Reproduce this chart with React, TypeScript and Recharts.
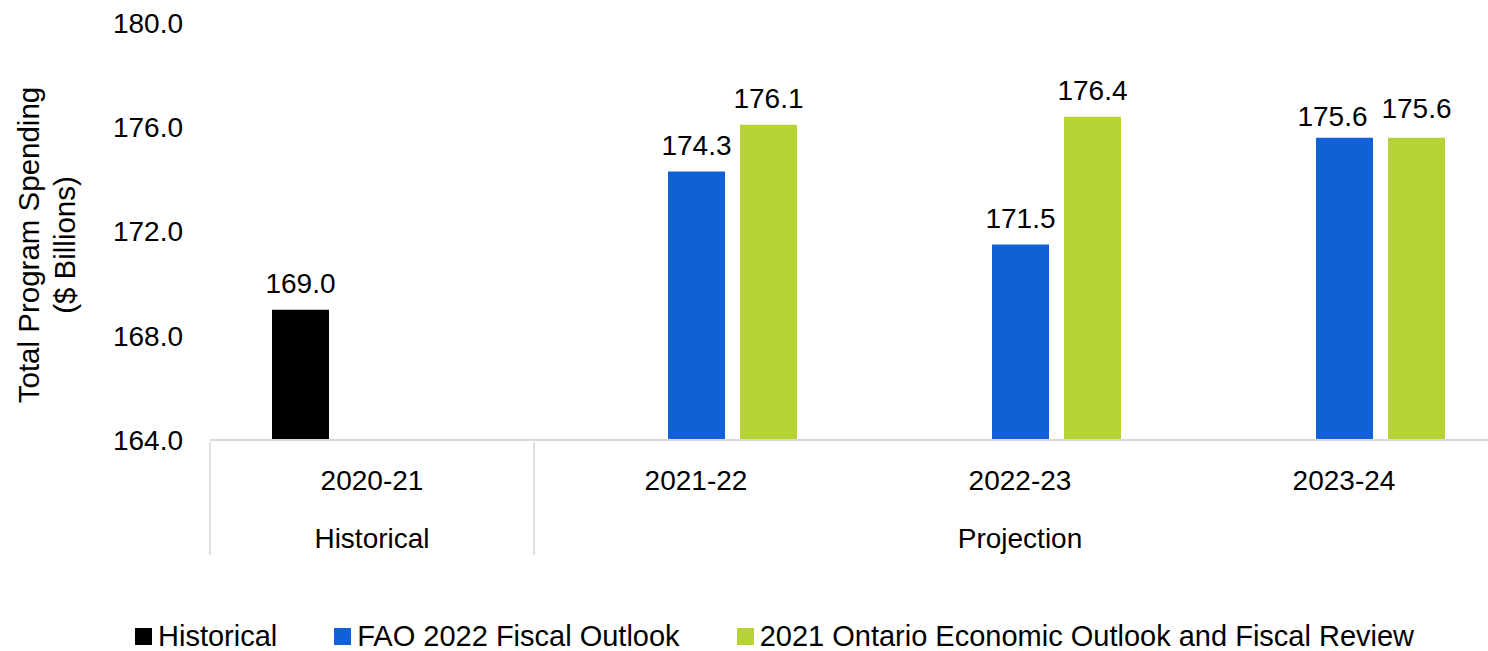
import React from 'react';
import { BarChart, Bar, XAxis, YAxis, Legend, LabelList } from 'recharts';

const categories = ['2020-21', '2021-22', '2022-23', '2023-24'];
const historical = [169.0, null, null, null];
const fao2022 = [null, 174.3, 171.5, 175.6];
const ontario2021 = [null, 176.1, 176.4, 175.6];
const yTicks = [164, 168, 172, 176, 180];
const groupLabels = [
  { index: 0, label: 'Historical' },
  { index: 2, label: 'Projection' },
];
const seriesNames = ['Historical', 'FAO 2022 Fiscal Outlook', '2021 Ontario Economic Outlook and Fiscal Review'];

const data = categories.map((c, i) => ({
  cat: c,
  historical: historical[i],
  fao: fao2022[i],
  ontario: ontario2021[i],
}));

const FONT = '"Liberation Sans", Arial, sans-serif';
const CHART_W = 1530;
const CHART_H = 651;
const MARGIN = { top: 23, right: 24, left: 0, bottom: 0 };
const Y_W = 210;
const BAND = (CHART_W - MARGIN.left - MARGIN.right - Y_W) / categories.length;
const GRID = '#D9D9D9';
const COLORS = ['#000000', '#1060D6', '#B5D334'];

const XTick = (props: any) => {
  const { x, y, payload, index } = props;
  const half = BAND / 2;
  const group = groupLabels.find((g) => g.index === index);
  return (
    <g>
      <text x={x} y={y + 38} textAnchor="middle" dominantBaseline="central" fontSize={28} fill="#000" fontFamily={FONT}>
        {payload.value}
      </text>
      {group && (
        <text x={x} y={y + 96} textAnchor="middle" dominantBaseline="central" fontSize={28} fill="#000" fontFamily={FONT}>
          {group.label}
        </text>
      )}
      {index === 0 && (
        <>
          <line x1={x - half} x2={x - half} y1={y} y2={y + 113} stroke={GRID} strokeWidth={1.5} />
          <line x1={x + half} x2={x + half} y1={y} y2={y + 113} stroke={GRID} strokeWidth={1.5} />
        </>
      )}
      {index === categories.length - 1 && (
        <line x1={x + half} x2={x + half} y1={y} y2={y + 113} stroke={GRID} strokeWidth={1.5} />
      )}
    </g>
  );
};

const YLabel = () => (
  <g fontFamily={FONT} fontSize={29.5} fill="#000">
    <text x={28} y={245} transform="rotate(-90, 28, 245)" textAnchor="middle" dominantBaseline="central">
      Total Program Spending
    </text>
    <text x={64} y={245} transform="rotate(-90, 64, 245)" textAnchor="middle" dominantBaseline="central">
      ($ Billions)
    </text>
  </g>
);

const LegendContent = () => (
  <div
    style={{
      height: 30,
      display: 'flex',
      justifyContent: 'flex-start',
      alignItems: 'center',
      fontFamily: FONT,
      fontSize: 29,
      color: '#000',
      gap: 57,
      paddingLeft: 135,
      whiteSpace: 'nowrap',
    }}
  >
    {seriesNames.map((n, i) => (
      <div key={n} style={{ display: 'flex', alignItems: 'center' }}>
        <span style={{ width: 17, height: 17, background: COLORS[i], display: 'inline-block', marginRight: 6 }} />
        <span>{n}</span>
      </div>
    ))}
  </div>
);

const fmt = (v: any) => (v == null || v === '' || isNaN(Number(v)) ? '' : Number(v).toFixed(1));

// small nudges that the source applied to avoid overlapping labels in the last category
const labelNudge: Record<string, Record<string, [number, number]>> = {
  fao: { '2023-24': [-12, 5] },
  ontario: { '2023-24': [0, -3] },
};

const makeAccessor = (key: string) => (entry: any) => {
  const p = entry?.payload ?? {};
  const v = p[key] ?? entry?.value;
  if (v == null) return '';
  return `${p.cat ?? ''}|${v}`;
};

const makeLabel = (key: string) => (props: any) => {
  const { x, y, width, value } = props;
  if (value == null || value === '') return null;
  const parts = String(value).split('|');
  const cat = parts.length > 1 ? parts[0] : '';
  const num = parts.length > 1 ? parts[1] : parts[0];
  const txt = fmt(num);
  if (!txt) return null;
  const [dx, dy] = labelNudge[key]?.[cat] ?? [0, 0];
  return (
    <text
      x={x + width / 2 + dx}
      y={y - 17 + dy}
      textAnchor="middle"
      fontSize={28}
      fill="#000"
      fontFamily={FONT}
    >
      {txt}
    </text>
  );
};

export default function App() {
  return (
    <div style={{ position: 'absolute', left: 0, top: 0, width: 1488, height: 651, overflow: 'hidden', background: '#fff' }}>
      <BarChart width={CHART_W} height={CHART_H} data={data} margin={MARGIN} barSize={57} barGap={15}>
        <XAxis
          dataKey="cat"
          height={181}
          axisLine={{ stroke: GRID, strokeWidth: 2 }}
          tickLine={false}
          tickSize={0}
          tick={<XTick />}
          interval={0}
        />
        <YAxis
          width={Y_W}
          domain={[164, 180]}
          ticks={yTicks}
          axisLine={false}
          tickLine={false}
          tickSize={0}
          tickMargin={27}
          tickFormatter={(v: number) => v.toFixed(1)}
          tick={{ fontSize: 28, fill: '#000', fontFamily: FONT }}
          label={{ content: <YLabel /> }}
        />
        <Legend verticalAlign="bottom" height={30} content={<LegendContent />} wrapperStyle={{ width: 1488, left: 0 }} />
        <Bar dataKey="historical" name={seriesNames[0]} fill={COLORS[0]} isAnimationActive={false}>
          <LabelList valueAccessor={makeAccessor('historical')} content={makeLabel('historical')} />
        </Bar>
        <Bar dataKey="fao" name={seriesNames[1]} fill={COLORS[1]} isAnimationActive={false}>
          <LabelList valueAccessor={makeAccessor('fao')} content={makeLabel('fao')} />
        </Bar>
        <Bar dataKey="ontario" name={seriesNames[2]} fill={COLORS[2]} isAnimationActive={false}>
          <LabelList valueAccessor={makeAccessor('ontario')} content={makeLabel('ontario')} />
        </Bar>
      </BarChart>
    </div>
  );
}
